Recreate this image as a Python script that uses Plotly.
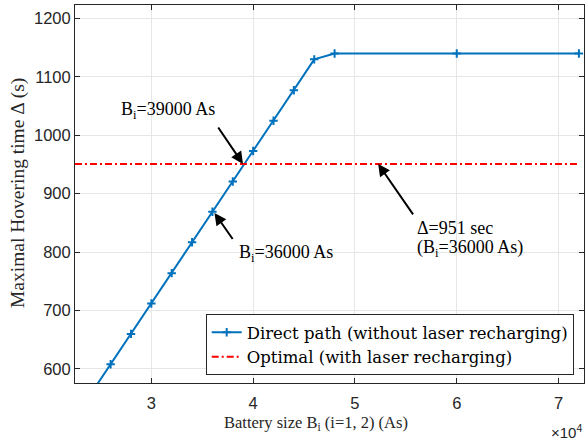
import plotly.graph_objects as go

# Direct path (no laser recharging): battery size vs. maximal hovering time
battery_as = [24000, 26000, 28000, 30000, 32000, 34000, 36000, 38000, 40000,
              42000, 44000, 46000, 48000, 60000, 72000]
hover_direct = [556, 608, 660, 712, 764, 817, 869, 921, 973,
                1025, 1077, 1130, 1140, 1140, 1140]

# Optimal with laser recharging (constant)
opt_x = [22500, 72000]
opt_y = [951, 951]

x_tick_vals = [30000, 40000, 50000, 60000, 70000]
x_tick_text = ["3", "4", "5", "6", "7"]
y_tick_vals = [600, 700, 800, 900, 1000, 1100, 1200]

BLUE = "#0072BD"
AXIS = "#262626"
SERIF = "Liberation Serif, Times New Roman, serif"
SANS = "Liberation Sans, Arial, Helvetica, sans-serif"
LEGEND_FONT = "DejaVu Serif, serif"

fig = go.Figure()
fig.add_trace(go.Scatter(
    x=battery_as, y=hover_direct, mode="lines+markers",
    name="Direct path (without laser recharging)",
    line=dict(color=BLUE, width=2),
    marker=dict(symbol="cross-thin", size=6, line=dict(color=BLUE, width=2)),
))
fig.add_trace(go.Scatter(
    x=opt_x, y=opt_y, mode="lines",
    name="Optimal (with laser recharging)",
    line=dict(color="#FF0000", width=2, dash="7px,3px,2px,3px"),
))

axis_common = dict(
    showline=True, linecolor=AXIS, linewidth=1, mirror="ticks",
    ticks="inside", ticklen=5, tickcolor=AXIS, tickwidth=1,
    showgrid=True, gridcolor="#E6E6E6", gridwidth=1, zeroline=False,
    tickfont=dict(family=SANS, size=16.5, color=AXIS),
)
fig.update_xaxes(range=[22500, 72500], tickvals=x_tick_vals, ticktext=x_tick_text,
                 ticklabelstandoff=5, **axis_common)
fig.update_yaxes(range=[576, 1223], tickvals=y_tick_vals, **axis_common)

ann = []


def arrow(x, y, ax, ay):
    ann.append(dict(x=x, y=y, ax=ax, ay=ay, xref="x", yref="y", axref="x", ayref="y",
                    text="", showarrow=True, arrowhead=2, arrowsize=1.2,
                    arrowwidth=2, arrowcolor="black"))


def label(x, y, text, xanchor="left"):
    ann.append(dict(x=x, y=y, xref="x", yref="y", text=text, showarrow=False,
                    xanchor=xanchor, yanchor="middle",
                    font=dict(family=SERIF, size=18, color="black")))


arrow(39000, 951, 36470, 1016)
arrow(36200, 867, 38090, 820)
arrow(52280, 951, 55810, 862)
label(31620, 1043, "B<sub>i</sub>=39000 As", "center")
label(38460, 798, "B<sub>i</sub>=36000 As")
label(55880, 841, "Δ=951 sec")
label(55880, 807, "(B<sub>i</sub>=36000 As)")

# axis titles and exponent marker
ann.append(dict(x=(316 - 75) / 509.3, y=-(423 - 383) / 378, xref="paper", yref="paper",
                text="Battery size B<sub>i</sub> (i=1, 2) (As)", showarrow=False,
                xanchor="center", yanchor="middle",
                font=dict(family=SERIF, size=16.5, color=AXIS)))
ann.append(dict(x=(18 - 75) / 509.3, y=(383 - 193) / 378, xref="paper", yref="paper",
                text="Maximal Hovering time Δ (s)", showarrow=False, textangle=-90,
                xanchor="center", yanchor="middle",
                font=dict(family=SERIF, size=19.5, color=AXIS)))
ann.append(dict(x=(584 - 75) / 509.3, y=-(443 - 383) / 378, xref="paper", yref="paper",
                text="×10<sup>4</sup>", showarrow=False,
                xanchor="right", yanchor="bottom",
                font=dict(family=SANS, size=15, color=AXIS)))

fig.update_layout(
    width=586, height=444,
    margin=dict(l=75, r=2, t=5, b=61),
    plot_bgcolor="white", paper_bgcolor="white",
    showlegend=True,
    legend=dict(x=(574 - 75) / 509.3, y=(383 - 375) / 378, xanchor="right", yanchor="bottom",
                bgcolor="white", bordercolor=AXIS, borderwidth=1,
                font=dict(family=LEGEND_FONT, size=16.5, color="black"),
                tracegroupgap=0, itemwidth=30),
    annotations=ann,
)

fig.write_html("out.html")
